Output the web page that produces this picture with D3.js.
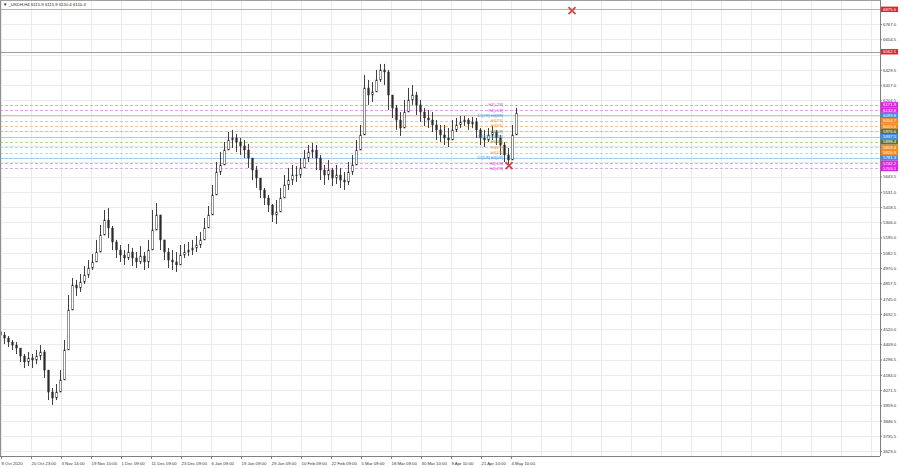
<!DOCTYPE html>
<html><head><meta charset="utf-8">
<script src="https://cdn.jsdelivr.net/npm/d3@7"></script>
<style>body{margin:0;background:#fff;} svg{display:block;font-family:"Liberation Sans",Arial,sans-serif;}</style>
</head><body><svg id="c" width="900" height="468"></svg>
<script>
// ---- DATA ----
const symbolTitle = "\u25BC _UKDH,H4  6115.9 6115.9 6110.4 6110.4";
const firstOpen = 4500;
const closes = [4477,4455,4425,4403,4381,4322,4278,4308,4293,4322,4352,4219,4057,4013,4057,4146,4367,4661,4845,4823,4867,4919,4970,5015,5088,5213,5324,5265,5162,5103,5066,5044,5088,5044,5015,5059,5015,5103,5250,5361,5177,5088,5029,5015,4993,5066,5088,5103,5118,5140,5177,5265,5361,5508,5677,5729,5839,5913,5928,5898,5869,5839,5780,5692,5633,5545,5486,5434,5361,5383,5486,5582,5618,5655,5655,5707,5780,5825,5839,5780,5692,5655,5692,5633,5655,5618,5604,5677,5729,5839,5950,6296,6244,6267,6355,6429,6414,6244,6149,6060,6001,6119,6208,6244,6171,6119,6075,6060,6024,5987,5950,5928,5913,5987,6024,6046,6060,6031,6046,5987,5928,5913,5950,5972,5928,5876,5803,5766,5950,6110.4];
const highs = [4529,4499,4470,4440,4425,4381,4337,4352,4337,4367,4403,4367,4205,4087,4116,4219,4440,4772,4897,4882,4926,4985,5029,5074,5177,5287,5398,5412,5280,5177,5140,5103,5147,5118,5088,5132,5088,5177,5398,5449,5324,5177,5118,5103,5088,5140,5147,5162,5177,5206,5236,5339,5427,5582,5751,5825,5898,5972,5987,5957,5928,5913,5884,5780,5722,5633,5560,5508,5442,5471,5560,5655,5707,5729,5722,5780,5839,5876,5891,5876,5803,5729,5766,5707,5729,5707,5677,5751,5803,5913,6024,6392,6355,6340,6429,6473,6473,6429,6244,6171,6119,6208,6296,6318,6267,6208,6149,6134,6119,6060,6024,6024,6001,6060,6075,6090,6090,6075,6082,6075,6001,5987,6001,6016,5987,5950,5898,5854,6024,6149];
const lows = [4440,4411,4389,4367,4337,4278,4234,4249,4234,4263,4293,4160,3998,3962,3998,4072,4146,4367,4735,4764,4794,4853,4897,4956,5015,5103,5236,5191,5103,5044,5015,4993,5029,4985,4970,5000,4956,4970,5140,5250,5103,5029,4970,4956,4941,5015,5044,5059,5066,5088,5118,5191,5309,5398,5582,5655,5751,5839,5854,5825,5803,5780,5707,5618,5560,5486,5434,5383,5309,5294,5398,5508,5545,5582,5604,5633,5722,5751,5780,5692,5618,5582,5618,5574,5589,5560,5545,5582,5655,5751,5839,5950,6171,6193,6267,6340,6318,6134,6075,5987,5942,6024,6119,6171,6097,6046,6016,6001,5972,5913,5898,5876,5861,5928,5972,6001,6016,5987,6001,5928,5876,5861,5898,5913,5876,5803,5751,5722,5766,5987];
const timeLabels = ["8 Oct 2020","20 Oct 23:00","3 Nov 14:00","19 Nov 10:00","1 Dec 09:00","11 Dec 09:00","23 Dec 09:00","6 Jan 09:00","19 Jan 09:00","29 Jan 09:00","10 Feb 09:00","22 Feb 09:00","5 Mar 09:00","18 Mar 09:00","30 Mar 10:00","9 Apr 10:00","21 Apr 10:00","4 May 10:00"];
const priceTicks = [3623.0,3735.5,3846.5,3959.0,4071.5,4184.0,4296.5,4409.0,4520.0,4632.5,4745.0,4857.5,4970.0,5082.5,5195.0,5306.0,5418.5,5531.0,5643.5,6204.5,6317.0,6429.5,6654.5,6767.0];
const murreyValues = [6171.9,6132.8,6093.8,6054.7,6015.6,5976.6,5937.5,5898.4,5859.4,5820.3,5781.3,5742.2,5703.1];
const murreyNames = ["H4[+2/8]","H4[+1/8]","D1[7/8] H4[8/8]","H4[7/8]","H4[6/8]","H4[5/8]","D1[6/8] H4[4/8]","H4[3/8]","H4[2/8]","H4[1/8]","D1[5/8] H4[0/8]","H4[-1/8]","H4[-2/8]"];
const murreyKinds = ["extra","extra","daily","weak","weak","pivot","daily","pivot","weak","weak","daily","extra","extra"];
const alertLevels = [6875.0, 6562.5];
const alertMarks = [{bar: 143, price: 6866}, {bar: 127.25, price: 5725}];

// ---- STYLES ----
const kindStyle = {
  extra: {line:"#e6a6e6", dash:"3,2", text:"#d04cd0", box:"#e020e0"},
  daily: {line:"#a9cdee", dash:null,  text:"#3b8fdc", box:"#3a8ee6"},
  weak:  {line:"#f3c793", dash:"3,2", text:"#ee9a3c", box:"#f08a24"},
  pivot: {line:"#c9c9a6", dash:"3,2", text:"#7d8a44", box:"#5f6f34"}
};

const svg = d3.select("#c");
const plotR = 880, plotB = 456;
const x = d3.scaleLinear().domain([0, 1]).range([0, 4]);   // bar index -> px
const y = d3.scaleLinear().domain([3623, 6767]).range([451, 24]);

// grid
const gridG = svg.append("g");
const tickBars = timeLabels.map((d,i)=> (1 + 30*i)/4);
const gridBars = d3.range(0, 30).map(i => (1 + 30*i)/4).filter(b => x(b) < plotR);
gridG.selectAll("line.v").data(gridBars).join("line")
  .attr("x1", d=>Math.round(x(d))+0.5).attr("x2", d=>Math.round(x(d))+0.5)
  .attr("y1", 0).attr("y2", plotB).attr("stroke", "#ebebeb");
gridG.selectAll("line.h").data(priceTicks.concat([6542.0,6092.0,5979.5,5867.0,5754.5,6879.5])).join("line")
  .attr("x1", 0).attr("x2", plotR)
  .attr("y1", d=>Math.round(y(d))+0.5).attr("y2", d=>Math.round(y(d))+0.5).attr("stroke", "#ebebeb");

// alert lines
svg.selectAll("line.alert").data(alertLevels).join("line")
  .attr("x1", 0).attr("x2", plotR)
  .attr("y1", d=>Math.round(y(d))+0.5).attr("y2", d=>Math.round(y(d))+0.5)
  .attr("stroke", (d,i)=> i===0 ? "#cfa9a9" : "#a89a9a");

// murrey lines
svg.selectAll("line.mm").data(murreyValues).join("line")
  .attr("x1", 0).attr("x2", plotR)
  .attr("y1", d=>Math.round(y(d))+0.5).attr("y2", d=>Math.round(y(d))+0.5)
  .attr("stroke", (d,i)=>kindStyle[murreyKinds[i]].line)
  .attr("stroke-dasharray", (d,i)=>kindStyle[murreyKinds[i]].dash);

// candles
const bars = closes.map((c,i)=>({o: i===0 ? firstOpen : closes[i-1], c, h: highs[i], l: lows[i], i}));
const cg = svg.append("g");
cg.selectAll("line.w").data(bars).join("line")
  .attr("x1", d=>x(d.i)+0.5).attr("x2", d=>x(d.i)+0.5)
  .attr("y1", d=>y(d.h)).attr("y2", d=>y(d.l))
  .attr("stroke", "#2a2a2a").attr("stroke-width", 0.9);
cg.selectAll("rect.b").data(bars).join("rect")
  .attr("x", d=>x(d.i)-0.25).attr("width", 1.5)
  .attr("y", d=>y(Math.max(d.o,d.c))).attr("height", d=>Math.max(0.8, Math.abs(y(d.o)-y(d.c))))
  .attr("fill", d=> d.c>=d.o ? "#ffffff" : "#2a2a2a").attr("stroke", "#2a2a2a").attr("stroke-width", 0.5);

// murrey labels
svg.selectAll("text.mm").data(murreyValues).join("text")
  .attr("x", 503).attr("y", d=>y(d)+1.4)
  .attr("text-anchor", "end").attr("font-size", 3.8)
  .attr("fill", (d,i)=>kindStyle[murreyKinds[i]].text)
  .text((d,i)=>murreyNames[i]);

// alert X marks
svg.selectAll("path.x").data(alertMarks).join("path")
  .attr("transform", d=>`translate(${x(d.bar)},${y(d.price)})`)
  .attr("d", "M-3.5,-3.5L3.5,3.5M3.5,-3.5L-3.5,3.5")
  .attr("stroke", "#e04040").attr("stroke-width", 1.8).attr("fill","none");

// frame
svg.append("line").attr("x1", plotR+0.5).attr("x2", plotR+0.5).attr("y1", 0).attr("y2", plotB).attr("stroke", "#808080");
svg.append("line").attr("x1", 0).attr("x2", plotR).attr("y1", plotB+0.5).attr("y2", plotB+0.5).attr("stroke", "#808080");
svg.append("line").attr("x1", 0.5).attr("x2", 0.5).attr("y1", 0).attr("y2", plotB).attr("stroke", "#909090");
svg.append("line").attr("x1", 0).attr("x2", plotR).attr("y1", 0.5).attr("y2", 0.5).attr("stroke", "#a0a0a0");

// price axis
const yAxis = d3.axisRight(y).tickValues(priceTicks).tickSize(2).tickFormat(d3.format(".1f"));
const ya = svg.append("g").attr("transform", `translate(${plotR},0)`).call(yAxis);
ya.select(".domain").remove();
ya.selectAll("text").attr("font-size", 4.3).attr("fill", "#333").attr("x", 3).attr("font-family", "Liberation Sans, Arial");
ya.selectAll("line").attr("stroke", "#808080");

// time axis
const xa = svg.append("g").attr("transform", `translate(0,${plotB})`);
xa.selectAll("line").data(tickBars).join("line")
  .attr("x1", d=>Math.round(x(d))+0.5).attr("x2", d=>Math.round(x(d))+0.5).attr("y1", 0).attr("y2", 3).attr("stroke", "#808080");
xa.selectAll("text").data(tickBars).join("text")
  .attr("x", d=>x(d)+0.5).attr("y", 8.5).attr("font-size", 4.3).attr("fill", "#333")
  .text((d,i)=>timeLabels[i]);

// axis boxes for alert & murrey levels
const boxes = alertLevels.map(v=>({v, box:"#e02424"})).concat(murreyValues.map((v,i)=>({v, box: kindStyle[murreyKinds[i]].box})));
const bg = svg.append("g");
bg.selectAll("rect").data(boxes).join("rect")
  .attr("x", plotR+1).attr("width", 17).attr("y", d=>y(d.v)-2.7).attr("height", 5.4).attr("fill", d=>d.box);
bg.selectAll("text").data(boxes).join("text")
  .attr("x", plotR+3).attr("y", d=>y(d.v)+1.5).attr("font-size", 4.3).attr("fill", "#fff")
  .text(d=>d3.format(".1f")(d.v));

// title
svg.append("text").attr("x", 3).attr("y", 5.5).attr("font-size", 4.3).attr("fill", "#222").text(symbolTitle);
</script></body></html>
